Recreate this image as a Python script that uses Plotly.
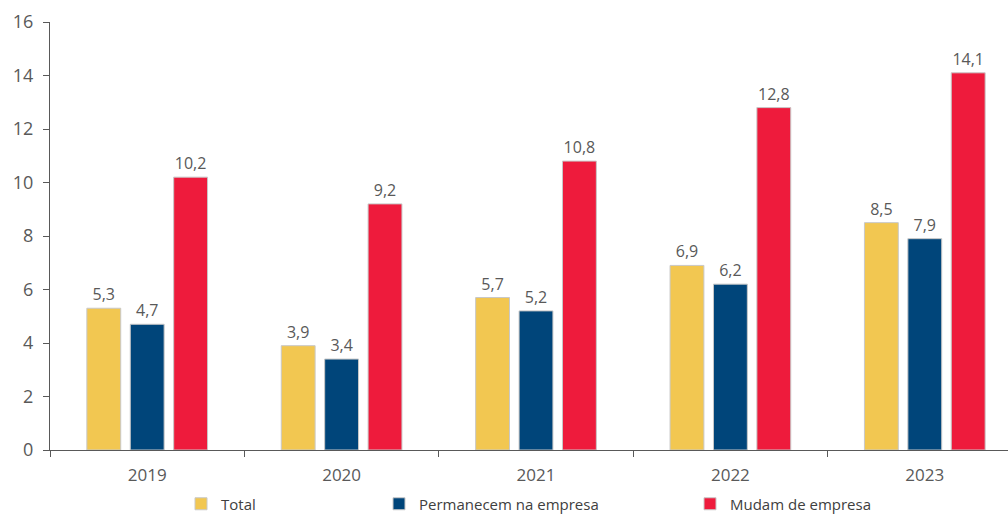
import plotly.graph_objects as go

years = ["2019", "2020", "2021", "2022", "2023"]
total = [5.3, 3.9, 5.7, 6.9, 8.5]
permanecem = [4.7, 3.4, 5.2, 6.2, 7.9]
mudam = [10.2, 9.2, 10.8, 12.8, 14.1]

series = [
    ("Total", total, "#F2C751", "legend", 181),
    ("Permanecem na empresa", permanecem, "#00457A", "legend2", 379),
    ("Mudam de empresa", mudam, "#EE1B3C", "legend3", 690),
]

W, H = 1008, 515
axis_color = "#595959"
text_color = "#595959"
legend_font = dict(family="Open Sans", size=15, color="#404040")

fig = go.Figure()
for name, vals, color, leg, _ in series:
    fig.add_trace(go.Bar(
        x=years, y=vals, name=name,
        marker=dict(color=color, line=dict(color="#C8C8C8", width=1)),
        text=vals, texttemplate="%{y:.1f}", textposition="outside",
        textfont=dict(family="Open Sans", size=16, color=text_color),
        cliponaxis=False, legend=leg,
    ))

# one legend per series, laid out along the bottom edge
legends = {}
for name, vals, color, leg, xpx in series:
    legends[leg] = dict(
        x=xpx / W, y=1 - 504 / H, xanchor="left", yanchor="middle",
        xref="container", yref="container", orientation="h",
        font=legend_font, bgcolor="rgba(0,0,0,0)", itemwidth=30,
    )

fig.update_layout(
    width=W, height=H,
    margin=dict(l=50, r=0, t=22, b=65, autoexpand=False),
    paper_bgcolor="white", plot_bgcolor="white",
    separators=",.",
    barmode="group", bargap=0.33, bargroupgap=0.22,
    font=dict(family="Open Sans", color=text_color),
    showlegend=True,
    **legends,
)

fig.update_xaxes(
    type="category", range=[-0.5, 4.428],
    showline=True, linecolor=axis_color, linewidth=1,
    ticks="outside", tickson="boundaries", ticklen=6, tickcolor=axis_color,
    ticklabelstandoff=10,
    tickfont=dict(family="Open Sans", size=17, color=text_color),
    showgrid=False, zeroline=False,
)
fig.update_yaxes(
    range=[0, 16], dtick=2,
    showline=True, linecolor=axis_color, linewidth=1,
    ticks="outside", ticklen=6, tickcolor=axis_color,
    ticklabelstandoff=6,
    tickfont=dict(family="Open Sans", size=18, color=text_color),
    showgrid=False, zeroline=False,
)

fig.write_html("out.html")
